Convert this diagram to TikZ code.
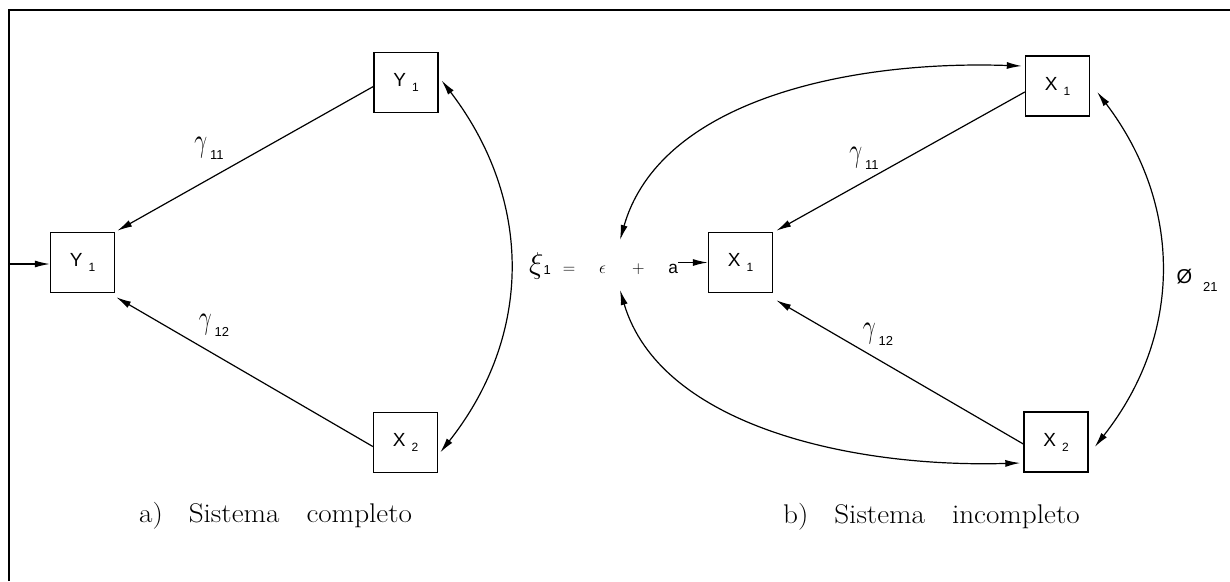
\documentclass[tikz,border=0pt]{standalone}
\usepackage{fontspec}
\usepackage{graphicx}
\newfontfamily\plotfont{Liberation Sans}
\usetikzlibrary{arrows.meta,calc}
\newcommand\boxlab[2]{{\plotfont\fontsize{19}{19}\selectfont #1\hspace{6pt}\raisebox{-5pt}{\fontsize{12}{12}\selectfont #2}}}
\newcommand\coef[2]{{#1}\hspace{3pt}\raisebox{-8pt}{\plotfont\fontsize{13}{13}\selectfont #2}}
\newcommand\gam{\scalebox{1.1}[1.6]{\fontsize{20.74}{20.74}\selectfont$\gamma$}}
\newcommand\captxt[1]{\scalebox{1.08}[1]{#1}}
\tikzset{
  var/.style={draw, line width=1.4pt, minimum width=64pt, minimum height=60pt, inner sep=0pt},
  conn/.style={line width=1.2pt, -{Latex[length=15pt,width=7pt]}},
  both/.style={line width=1.2pt, {Latex[length=15pt,width=7pt]}-{Latex[length=15pt,width=7pt]}},
  lab/.style={inner sep=0pt},
  captext/.style={inner sep=0pt, font=\fontsize{27}{27}\selectfont},
}
\begin{document}
\begin{tikzpicture}[x=1pt,y=-1pt]
\useasboundingbox (0,0) rectangle (1230,581);
% frame
\draw[line width=1.8pt] (9,581) -- (9,10) -- (1230,10);

% ---- a) complete system
\node[var] (Yl) at (82.5,262.5) {\boxlab{Y}{1}};
\node[var] (Yt) at (406,82.5) {\boxlab{Y}{1}};
\node[var] (Xl) at (405.5,442.5) {\boxlab{X}{2}};
\coordinate (inl) at (9,264);
\draw[conn] (inl) -- (Yl.west |- inl);
\draw[conn] ($(Yt.west)+(0,4)$) -- ($(Yl.north east)+(2,-1)$);
\draw[conn] ($(Xl.west)+(0,4)$) -- ($(Yl.south east)+(1,4)$);
\draw[both] ($(Yt.east)+(3,-2)$) .. controls (533,200) and (533,335) .. ($(Xl.east)+(2,10)$);
\node[lab] (g11a) at (209,148) {\coef{\gam}{11}};
\node[lab] (g12a) at (214,325) {\coef{\gam}{12}};
\node[captext, anchor=base west] (capa) at (139,522) {\captxt{a)\hspace{24pt}Sistema\hspace{25pt}completo}};

% ---- b) incomplete system
\node[var] (Xt) at (1057.5,86) {\boxlab{X}{1}};
\node[var] (Xb) at (1056,442) {\boxlab{X}{2}};
\node[var] (Xm) at (740.5,262.5) {\boxlab{X}{1}};
\node[inner sep=0pt, anchor=base west] (eq) at (529,273)
  {\scalebox{1.45}{\fontsize{20.74}{20.74}\selectfont$\xi$}\raisebox{-1pt}{\plotfont\fontsize{13}{13}\selectfont 1}\hspace{12pt}{\fontsize{17.28}{17.28}\selectfont$=$\hspace{24pt}$\epsilon$\hspace{26pt}$+$\hspace{24pt}{\plotfont a}}};
\draw[conn] (eq.east |- Xm.west) -- (Xm.west);
\coordinate (et) at (620,240);
\coordinate (eb) at (620,290);
\draw[both] (et) .. controls (660,100) and (850,60) .. ($(Xt.west)+(-3,-20)$);
\draw[both] (eb) .. controls (660,425) and (850,468) .. ($(Xb.west)+(-3,21)$);
\draw[conn] ($(Xt.west)+(0,6)$) -- ($(Xm.north east)+(3,-1)$);
\draw[conn] ($(Xb.west)+(0,2)$) -- ($(Xm.south east)+(3,7)$);
\draw[both] ($(Xt.east)+(7,6)$) .. controls (1183,205) and (1183,335) .. ($(Xb.east)+(6,5)$);
\node[lab] (g11b) at (864,158) {\coef{\gam}{11}};
\node[lab] (g12b) at (878,334) {\coef{\gam}{12}};
\node[lab] (phi) at (1197,280) {\coef{\plotfont\fontsize{20}{20}\selectfont Ø}{\hspace{8pt}21}};
\node[captext, anchor=base west] (capb) at (783,523) {\captxt{b)\hspace{24pt}Sistema\hspace{25pt}incompleto}};
\end{tikzpicture}
\end{document}
